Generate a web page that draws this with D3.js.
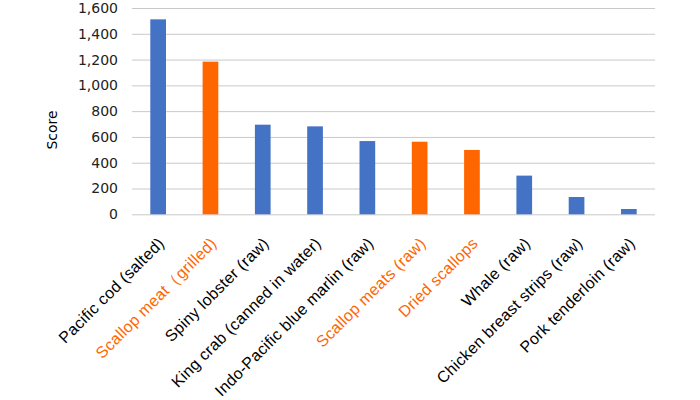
<!DOCTYPE html>
<html><head><meta charset="utf-8">
<script src="https://cdn.jsdelivr.net/npm/d3@7"></script>
<style>body{margin:0;background:#fff}</style>
</head><body>
<svg id="c" width="700" height="400"></svg>
<script>
const categories = ["Pacific cod (salted)","Scallop meat（grilled)","Spiny lobster (raw)","King crab (canned in water)","Indo-Pacific blue marlin (raw)","Scallop meats (raw)","Dried scallops","Whale (raw)","Chicken breast strips (raw)","Pork tenderloin (raw)"];
const values = [1512,1184,695,682,568,563,499,300,134,41];
const highlighted = [false,true,false,false,false,true,true,false,false,false];
const yTicks = [0,200,400,600,800,1000,1200,1400,1600];
const yLabel = "Score";

const svg = d3.select("#c");
const mLeft = 132, mRight = 655, mTop = 8, mBottom = 214.3;
const x = d3.scaleBand().domain(categories).range([mLeft, mRight]).paddingInner(0.7).paddingOuter(0.35);
const y = d3.scaleLinear().domain([0,1600]).range([mBottom, mTop]);
const blue = "#4472C4", orange = "#FF6600";

const yAxis = d3.axisLeft(y).tickValues(yTicks).tickSize(-(mRight-mLeft)).tickFormat(d3.format(",")).tickPadding(14);
const ga = svg.append("g").attr("transform", `translate(${mLeft},0)`).call(yAxis);
ga.select(".domain").remove();
ga.selectAll(".tick line").attr("stroke", "#c9c9c9").attr("stroke-width", 1);
ga.selectAll(".tick text").attr("font-family", "DejaVu Sans, Verdana, sans-serif").attr("font-size", 14).attr("fill", "#222");

svg.append("g").selectAll("rect").data(categories).join("rect")
  .attr("x", d => x(d))
  .attr("width", x.bandwidth())
  .attr("y", (d,i) => y(values[i]))
  .attr("height", (d,i) => y(0) - y(values[i]))
  .attr("fill", (d,i) => highlighted[i] ? orange : blue);

const xAxis = d3.axisBottom(x).tickSize(0).tickPadding(0);
const gx = svg.append("g").attr("transform", `translate(0,${mBottom})`).call(xAxis);
gx.select(".domain").remove();
gx.selectAll(".tick text")
  .attr("font-family", "Liberation Sans, Arial, sans-serif")
  .attr("font-size", 16)
  .attr("letter-spacing", "0.3px")
  .attr("text-anchor", "end")
  .attr("fill", (d,i) => highlighted[i] ? orange : "#000")
  .attr("dy", "0.71em")
  .attr("y", 0)
  .attr("transform", "translate(-1,22) rotate(-45)");

svg.append("text")
  .attr("transform", `translate(57,130) rotate(-90)`)
  .attr("text-anchor", "middle")
  .attr("font-family", "DejaVu Sans, Verdana, sans-serif")
  .attr("font-size", 14)
  .attr("fill", "#000")
  .text(yLabel);
</script>
</body></html>
